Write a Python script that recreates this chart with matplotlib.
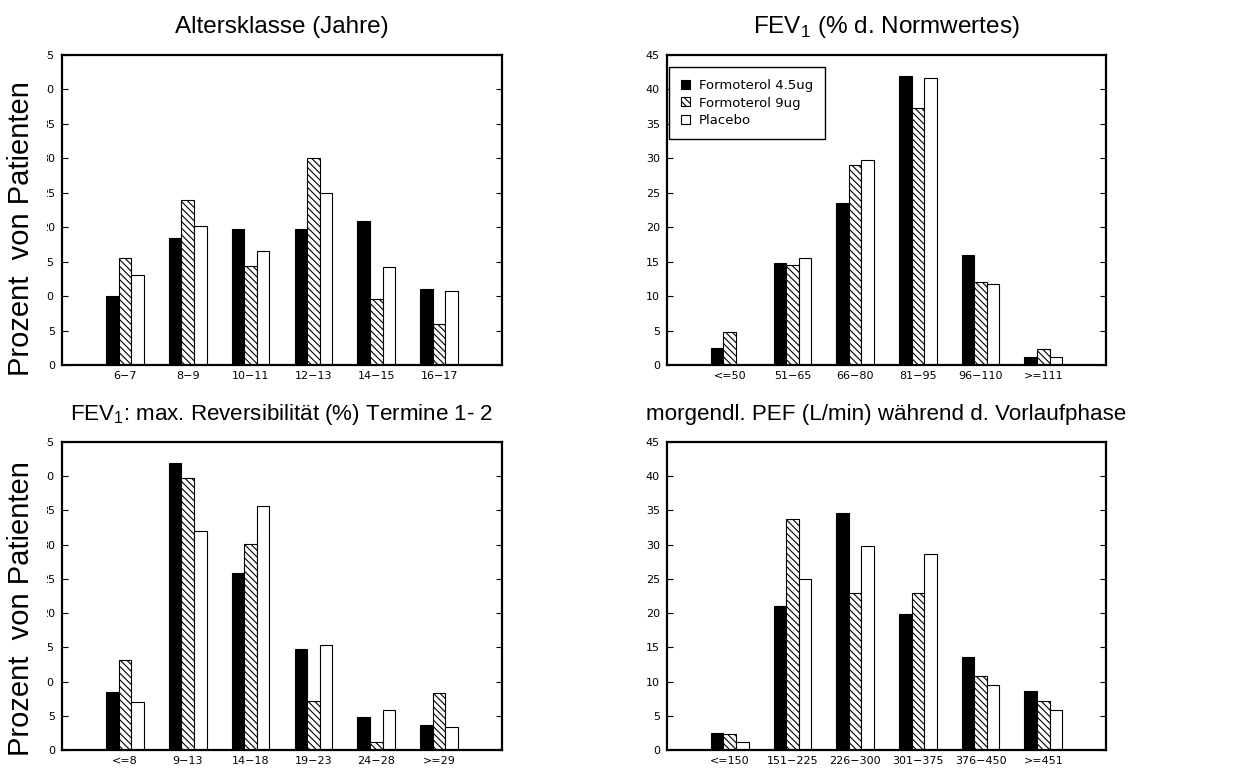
import matplotlib.pyplot as plt
from matplotlib.patches import Rectangle
import numpy as np

plt.rcParams['font.family'] = 'DejaVu Sans'
plt.rcParams['mathtext.fontset'] = 'custom'
plt.rcParams['mathtext.rm'] = 'Liberation Sans'
plt.rcParams['hatch.linewidth'] = 0.8

groups = ['Formoterol 4.5ug', 'Formoterol 9ug', 'Placebo']

# Altersklasse
alter_labels = ['6−7', '8−9', '10−11', '12−13', '14−15', '16−17']
alter_f45 = [10.0, 18.5, 19.7, 19.7, 20.9, 11.0]
alter_f9 = [15.6, 24.0, 14.4, 30.0, 9.6, 6.0]
alter_pl = [13.0, 20.2, 16.6, 25.0, 14.2, 10.7]

# FEV1 % Normwert
fev_labels = ['<=50', '51−65', '66−80', '81−95', '96−110', '>=111']
fev_f45 = [2.5, 14.8, 23.5, 42.0, 16.0, 1.2]
fev_f9 = [4.8, 14.5, 29.0, 37.3, 12.0, 2.3]
fev_pl = [0.0, 15.5, 29.8, 41.7, 11.8, 1.1]

# Reversibilitaet
rev_labels = ['<=8', '9−13', '14−18', '19−23', '24−28', '>=29']
rev_f45 = [8.5, 42.0, 25.9, 14.8, 4.8, 3.6]
rev_f9 = [13.1, 39.7, 30.1, 7.1, 1.1, 8.3]
rev_pl = [7.0, 32.0, 35.6, 15.4, 5.8, 3.4]

# morgendl. PEF
pef_labels = ['<=150', '151−225', '226−300', '301−375', '376−450', '>=451']
pef_f45 = [2.5, 21.0, 34.6, 19.8, 13.6, 8.6]
pef_f9 = [2.3, 33.8, 22.9, 22.9, 10.8, 7.2]
pef_pl = [1.2, 25.0, 29.8, 28.6, 9.5, 5.9]

panels = [
    ('Altersklasse (Jahre)', alter_labels, alter_f45, alter_f9, alter_pl),
    ('FEV$_1$ (% d. Normwertes)', fev_labels, fev_f45, fev_f9, fev_pl),
    ('FEV$_1$: max. Reversibilität (%) Termine 1- 2', rev_labels, rev_f45, rev_f9, rev_pl),
    ('morgendl. PEF (L/min) während d. Vorlaufphase', pef_labels, pef_f45, pef_f9, pef_pl),
]

fig = plt.figure(figsize=(12.4, 7.72), dpi=100)
W, H = 1240, 772
# axes boxes in pixels: left, top, right, bottom
boxes = [(62, 55, 502, 365), (667, 55, 1106, 365),
         (62, 442, 502, 750), (667, 442, 1106, 750)]
title_sizes = [17.5, 17.5, 16.1, 16.1]

x = np.arange(1, 7)
w = 0.2
for i, (title, labels, f45, f9, pl) in enumerate(panels):
    l, t, r, b = boxes[i]
    ax = fig.add_axes([l / W, 1 - b / H, (r - l) / W, (b - t) / H])
    ax.bar(x - w, f45, w, color='black', edgecolor='black', lw=0.8, label=groups[0])
    ax.bar(x, f9, w, color='white', edgecolor='black', lw=0.8,
           hatch='\\\\\\\\\\', label=groups[1])
    ax.bar(x + w, pl, w, color='white', edgecolor='black', lw=0.8, label=groups[2])
    ax.set_xlim(0, 7)
    ax.set_ylim(0, 45)
    ax.set_yticks(range(0, 46, 5))
    ax.set_xticks(x, labels)
    ax.tick_params(axis='y', direction='in', length=4, width=0.8, right=True,
                   labelsize=8, pad=5)
    ax.tick_params(axis='x', length=0, pad=4, labelsize=8)
    for s in ax.spines.values():
        s.set_linewidth(1.6)
    ax.set_title(title, fontsize=title_sizes[i], family='Liberation Sans', pad=16)
    if i == 1:
        ax.legend(loc='upper left', bbox_to_anchor=(0.005, 0.961), borderaxespad=0,
                  fontsize=9.5, frameon=True, fancybox=False, edgecolor='black',
                  framealpha=1, handlelength=0.68, handleheight=0.68,
                  handletextpad=0.68, labelspacing=0.35, borderpad=0.9)

# white strip over the left edge of the left tick labels
for t, b in [(45, 372), (432, 758)]:
    fig.add_artist(Rectangle((34 / W, 1 - b / H), 13 / W, (b - t) / H,
                             transform=fig.transFigure, facecolor='white',
                             edgecolor='none', zorder=3))

for yc in [229, 609]:
    fig.text(21 / W, 1 - yc / H, 'Prozent  von Patienten', rotation=90,
             ha='center', va='center', fontsize=21, family='Liberation Sans',
             zorder=4)

plt.savefig('out.png', dpi=100)
